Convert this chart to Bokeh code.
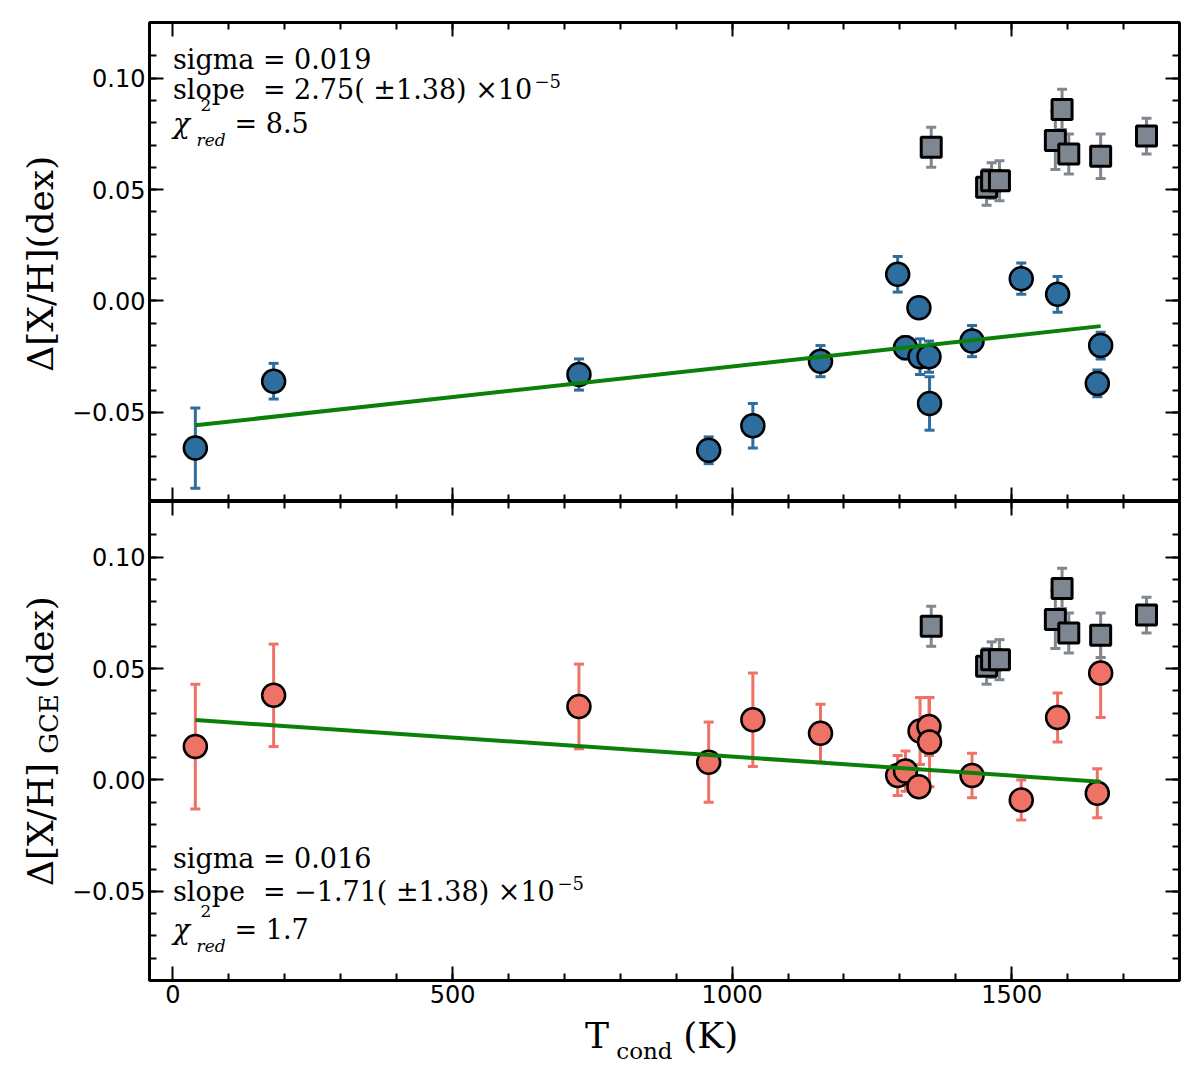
import numpy as np
from bokeh.plotting import figure
from bokeh.models import (ColumnDataSource, Label, LinearAxis, FixedTicker,
                          CustomJSTickFormatter, Range1d)
from bokeh.layouts import column, row
from bokeh.embed import file_html
from bokeh.resources import INLINE

# Elements fitted (circles), condensation temperature in K
elements = ["C", "O", "Zn", "Na", "Cu", "Mn", "Cr", "Si", "Fe",
            "Mg", "Co", "Ni", "V", "Ca", "Ti", "Al", "Sc"]
tcond = [40, 180, 726, 958, 1037, 1158, 1296, 1310, 1334,
         1336, 1352, 1353, 1429, 1517, 1582, 1653, 1659]

# top panel: Delta[X/H]
dxh = [-0.066, -0.036, -0.033, -0.067, -0.056, -0.027, 0.012, -0.021, -0.003,
       -0.025, -0.025, -0.046, -0.018, 0.010, 0.003, -0.037, -0.020]
dxh_err = [0.018, 0.008, 0.007, 0.006, 0.010, 0.007, 0.008, 0.005, 0.004,
           0.008, 0.007, 0.012, 0.007, 0.007, 0.008, 0.006, 0.006]

# bottom panel: Delta[X/H] corrected for GCE
dxh_gce = [0.015, 0.038, 0.033, 0.008, 0.027, 0.021, 0.002, 0.004, -0.003,
           0.022, 0.024, 0.017, 0.002, -0.009, 0.028, -0.006, 0.048]
dxh_gce_err = [0.028, 0.023, 0.019, 0.018, 0.021, 0.013, 0.009, 0.009, 0.004,
               0.015, 0.013, 0.020, 0.010, 0.009, 0.011, 0.011, 0.020]

# neutron-capture elements (grey squares, not fitted), same in both panels
heavy = ["Eu", "Ba", "Sr", "Ce", "La", "Sm", "Nd", "Y", "Zr"]
tcond_heavy = [1356, 1455, 1464, 1478, 1578, 1590, 1602, 1659, 1741]
dxh_heavy = [0.069, 0.051, 0.054, 0.054, 0.072, 0.086, 0.066, 0.065, 0.074]
dxh_heavy_err = [0.009, 0.008, 0.008, 0.009, 0.013, 0.009, 0.009, 0.010, 0.008]

# fits: (intercept, slope)
fit_top = (-0.0569, 2.75e-5)
fit_bottom = (0.0276, -1.71e-5)

# fit statistics shown in the panels
sigma_txt = ["0.019", "0.016"]
slope_txt = ["2.75( ±1.38) ×10", "−1.71( ±1.38) ×10"]
chi2_txt = ["8.5", "1.7"]

x_major = [0, 500, 1000, 1500]
x_minor = list(range(100, 1800, 100))
y_major = [-0.05, 0.0, 0.05, 0.10]
y_minor = [round(-0.08 + 0.01 * i, 2) for i in range(20)]

BLUE = "#2e6e9f"
RED = "#ef7266"
GREY = "#7e8791"
GREY_ERR = "#80878e"
GREEN = "#0a800a"
SERIF = "DejaVu Serif"

FRAME_W = 1030
FRAME_H = 479
LABEL_W = 68       # strip holding the y axis titles
BOTTOM_B = 32      # room for the x tick labels
XLAB_H = 71        # strip holding the x axis title


def style_axis(ax, ticker, show_labels):
    ax.ticker = ticker
    ax.axis_line_color = None
    ax.major_tick_in = 14
    ax.major_tick_out = 0
    ax.minor_tick_in = 7
    ax.minor_tick_out = 0
    ax.major_tick_line_width = 2
    ax.minor_tick_line_width = 2
    ax.major_tick_line_color = "black"
    ax.minor_tick_line_color = "black"
    if show_labels:
        ax.major_label_text_font = "DejaVu Sans"
        ax.major_label_text_font_size = "24px"
        ax.major_label_text_color = "black"
        ax.major_label_standoff = 4
    else:
        ax.major_label_text_font_size = "0px"
        ax.major_label_text_color = None
        ax.major_label_standoff = 0


def add_text(p, x, y, text, size, italic=False, angle=0.0, align="left"):
    p.add_layout(Label(x=x, y=y, x_units="screen", y_units="screen",
                       text=text, text_font=SERIF,
                       text_font_size="%dpx" % size,
                       text_font_style="italic" if italic else "normal",
                       text_color="black", angle=angle,
                       text_align=align, text_baseline="alphabetic"))


def errorbars(p, x, y, err, color):
    src = ColumnDataSource(data=dict(
        x=x,
        lo=[v - e for v, e in zip(y, err)],
        hi=[v + e for v, e in zip(y, err)]))
    p.segment(x0="x", y0="lo", x1="x", y1="hi", source=src,
              line_color=color, line_width=3)
    p.scatter("x", "lo", source=src, marker="dash", size=10,
              line_color=color, line_width=3)
    p.scatter("x", "hi", source=src, marker="dash", size=10,
              line_color=color, line_width=3)


def label_strip(fw, fh, left=0, right=0, top=0, bottom=0):
    # empty figure used only to hold axis titles
    p = figure(frame_width=fw, frame_height=fh,
               x_range=Range1d(0, fw), y_range=Range1d(0, fh),
               x_axis_location=None, y_axis_location=None,
               output_backend="svg", toolbar_location=None,
               min_border_left=left, min_border_right=right,
               min_border_top=top, min_border_bottom=bottom)
    p.grid.visible = False
    p.outline_line_color = None
    return p


def make_panel(y, yerr, color, fit, idx, bottom):
    p = figure(frame_width=FRAME_W, frame_height=FRAME_H,
               x_range=Range1d(-42, 1800), y_range=Range1d(-0.09, 0.125),
               output_backend="svg", toolbar_location=None,
               min_border_left=80, min_border_right=14,
               min_border_top=0 if bottom else 22,
               min_border_bottom=BOTTOM_B if bottom else 0)
    p.xgrid.grid_line_color = None
    p.ygrid.grid_line_color = None
    p.outline_line_color = "black"
    p.outline_line_width = 3

    xt = FixedTicker(ticks=x_major, minor_ticks=x_minor)
    yt = FixedTicker(ticks=y_major, minor_ticks=y_minor)

    style_axis(p.xaxis[0], xt, bottom)
    style_axis(p.yaxis[0], yt, True)
    p.yaxis[0].formatter = CustomJSTickFormatter(code="""
        var v = Math.abs(tick) < 1e-9 ? 0 : tick;
        var s = Math.abs(v).toFixed(2);
        return v < 0 ? '\u2212' + s : s;
    """)
    top_ax = LinearAxis()
    style_axis(top_ax, xt, False)
    p.add_layout(top_ax, "above")
    right_ax = LinearAxis()
    style_axis(right_ax, yt, False)
    p.add_layout(right_ax, "right")

    # fitted elements
    errorbars(p, tcond, y, yerr, color)
    p.scatter(tcond, y, marker="circle", size=23, fill_color=color,
              line_color="black", line_width=2.5)

    # heavy elements
    errorbars(p, tcond_heavy, dxh_heavy, dxh_heavy_err, GREY_ERR)
    p.scatter(tcond_heavy, dxh_heavy, marker="square", size=20,
              fill_color=GREY, line_color="black", line_width=3)

    # linear fit over the fitted range
    x0, x1 = min(tcond), max(tcond)
    p.line([x0, x1], [fit[0] + fit[1] * x0, fit[0] + fit[1] * x1],
           line_color=GREEN, line_width=4)

    # statistics text
    if bottom:
        b1, b2, b3 = 122.3, 89.0, 50.7
        sup_x = 408
    else:
        b1, b2, b3 = 441.7, 411.7, 378.3
        sup_x = 385
    add_text(p, 23.4, b1, "sigma", 27)
    add_text(p, 113.4, b1, "= " + sigma_txt[idx], 27)
    add_text(p, 23.4, b2, "slope", 27)
    add_text(p, 113.4, b2, "= " + slope_txt[idx], 27)
    add_text(p, sup_x, b2 + 8.6, "−5", 18)
    add_text(p, 23.4, b3, "χ", 28, italic=True)
    add_text(p, 51, b3 + 18.7, "2", 17)
    add_text(p, 47, b3 - 16.3, "red", 17, italic=True)
    add_text(p, 85, b3, "= " + chi2_txt[idx], 27)
    return p


top = make_panel(dxh, dxh_err, BLUE, fit_top, 0, False)
bot = make_panel(dxh_gce, dxh_gce_err, RED, fit_bottom, 1, True)

rot = np.pi / 2
ylab_top = label_strip(LABEL_W, FRAME_H, top=22)
add_text(ylab_top, 40, 237.7, "Δ[X/H](dex)", 36, angle=rot, align="center")

ylab_bot = label_strip(LABEL_W, FRAME_H, bottom=BOTTOM_B)
add_text(ylab_bot, 40, 156, "Δ[X/H]", 36, angle=rot, align="center")
add_text(ylab_bot, 48, 256.5, "GCE", 26, angle=rot, align="center")
add_text(ylab_bot, 40, 338, "(dex)", 36, angle=rot, align="center")

xlab = label_strip(FRAME_W, XLAB_H, left=LABEL_W + 80, right=14)
add_text(xlab, 436.6, 47.7, "T", 36)
add_text(xlab, 467.8, 32.7, "cond", 23)
add_text(xlab, 534.8, 47.7, "(K)", 36)

layout = column(row(ylab_top, top, spacing=0),
                row(ylab_bot, bot, spacing=0),
                xlab, spacing=0)

open("out.html", "w").write(file_html(layout, INLINE))
